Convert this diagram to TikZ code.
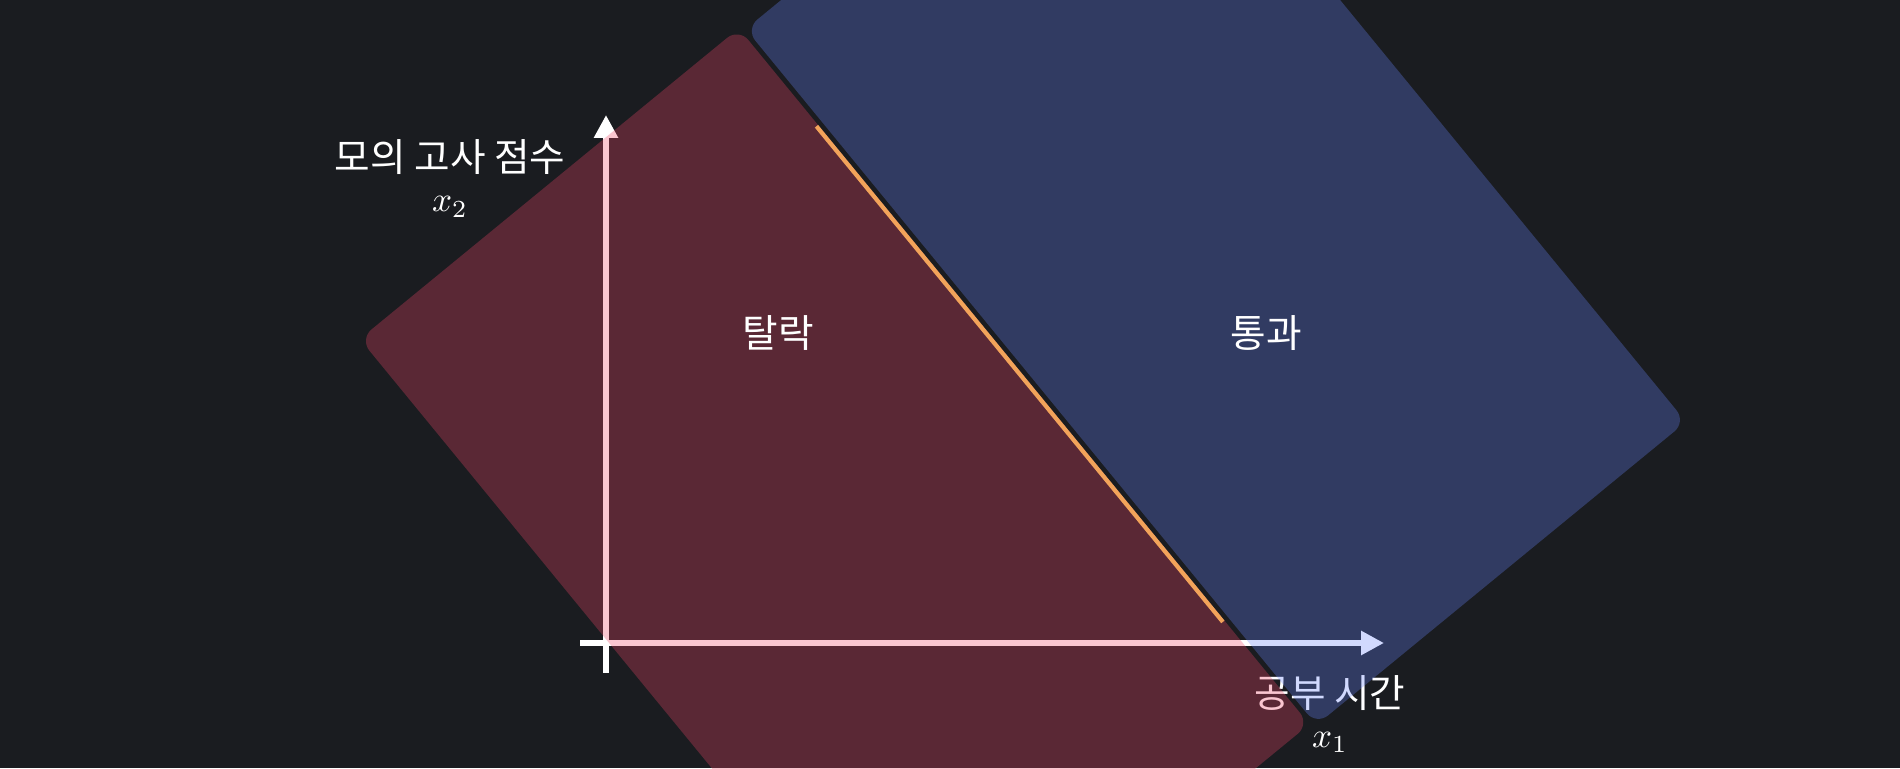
\documentclass[tikz,border=0pt]{standalone}
\usepackage{fontspec}
\usepackage{xcolor}
\usepackage{tikz}
\usetikzlibrary{arrows.meta,calc}
\newfontfamily\krfont{Noto Sans CJK KR}
\definecolor{BGdark}{HTML}{1A1C20}
\definecolor{FailRed}{HTML}{EF4466}
\definecolor{PassBlue}{HTML}{6783FC}
\definecolor{LineOrange}{HTML}{F2A35A}
\tikzset{
  axisline/.style={draw=white, line width=1.7pt, -{Triangle[length=2.3mm, width=2.3mm]}},
  axislabel/.style={text=white, inner sep=0pt, font=\krfont\fontsize{11}{13}\selectfont},
  axisvar/.style={text=white, inner sep=0pt, anchor=base, font=\fontsize{10}{12}\selectfont},
  region/.style={rounded corners=0.15cm, minimum width=9cm, inner sep=0pt, fill opacity=0.3, rotate=-50.65},
  classlabel/.style={text=white, inner sep=0pt, font=\krfont\fontsize{11}{13}\selectfont},
  boundary/.style={draw=LineOrange, line width=1.2pt}
}

\begin{document}
\begin{tikzpicture}
\useasboundingbox (0,0) rectangle (19,7.68);
\clip (0,0) rectangle (19,7.68);
\fill[BGdark] (0,0) rectangle (19,7.68);
% axes
\coordinate (O) at (6.06,1.25);
\coordinate (xtip) at (13.84,1.25);
\coordinate (ytip) at (6.06,6.53);
\draw[axisline] ($(O)+(-0.26,0)$) -- (xtip);
\draw[axisline] ($(O)+(0,-0.30)$) -- (ytip);
\node[axislabel] (ylab) at (4.50,6.11) {모의 고사 점수};
\node[axisvar] (yvar) at (4.50,5.56) {$x_2$};
\node[axislabel] (xlab) at (13.30,0.75) {공부 시간};
\node[axisvar] (xvar) at (13.30,0.21) {$x_1$};
% half-planes on both sides of the boundary
\coordinate (bTop) at (8.18,6.43);
\coordinate (bBot) at ($(bTop)+(-50.65:6.41)$);
\node[region, fill=FailRed, minimum height=4.9cm] (fail) at ($(bTop)+(-50.65:3.25)+(219.35:2.45)$) {};
\node[region, fill=PassBlue, minimum height=4.78cm] (pass) at ($(bTop)+(-50.65:3.30)+(39.35:2.44)$) {};
\draw[boundary] ($(bTop)+(219.35:0.02)$) -- ($(bBot)+(219.35:0.02)$);
\node[classlabel] (failtxt) at (7.78,4.35) {탈락};
\node[classlabel] (passtxt) at (12.66,4.35) {통과};
\end{tikzpicture}
\end{document}
